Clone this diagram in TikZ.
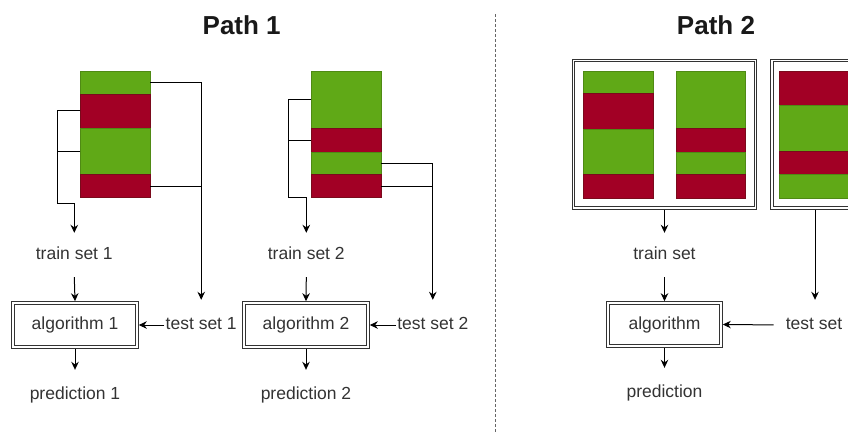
\documentclass[tikz,border=0pt]{standalone}
\usepackage{fontspec}
\setmainfont{Liberation Sans}
\usetikzlibrary{arrows.meta,calc}
\definecolor{grn}{HTML}{60A917}
\definecolor{crim}{HTML}{A20025}
\definecolor{grnD}{HTML}{4F8A14}
\definecolor{crimD}{HTML}{7A0A1C}
\tikzset{
  lbl/.style={font=\fontsize{17.5}{20}\selectfont, text=black!80, inner xsep=1pt, inner ysep=13.5pt, text height=13pt, text depth=4pt},
  tst/.style={lbl, inner ysep=16.5pt},
  ttl/.style={font=\fontsize{26}{30}\selectfont\bfseries, text=black!90},
  dbox/.style={draw=black!80, line width=1pt, inner sep=0pt,
    append after command={\pgfextra{\draw[draw=black!80, line width=1pt]
      ($(\tikzlastnode.south west)+(3pt,3pt)$) rectangle ($(\tikzlastnode.north east)+(-3pt,-3pt)$);}}},
  algbox/.style={dbox, font=\fontsize{17.5}{20}\selectfont, text=black!80},
  conn/.style={draw=black, line width=1pt},
  arr/.style={conn, -{Stealth[length=8pt,width=7.5pt]}},
  gband/.style={fill=grn, draw=grnD, line width=0.4pt},
  rband/.style={fill=crim, draw=crimD, line width=0.4pt},
  sepline/.style={draw=black!60, line width=0.9pt, dash pattern=on 3pt off 2pt},
}
\begin{document}
\begin{tikzpicture}[x=1pt,y=-1pt]
\useasboundingbox (0,0) rectangle (848,437);
\clip (0,0) rectangle (848,437);

% titles and separator
\node[ttl] (t1) at (241.7,25) {Path 1};
\node[ttl] (t2) at (716,25) {Path 2};
\coordinate (sepA) at (495.7,14);
\coordinate (sepB) at (495.7,433);
\draw[sepline] (sepA) -- (sepB);

% ---------- Path 1, block 1 ----------
\draw[gband] (80.3,70.7) rectangle (150,93.7);
\draw[rband] (80.3,93.7) rectangle (150,128.5);
\draw[gband] (80.3,128.5) rectangle (150,174.3);
\draw[rband] (80.3,174.3) rectangle (150,197);

% ---------- Path 1, block 2 ----------
\draw[gband] (311,70.7) rectangle (381,128.3);
\draw[rband] (311,128.3) rectangle (381,151.7);
\draw[gband] (311,151.7) rectangle (381,174.3);
\draw[rband] (311,174.3) rectangle (381,197);

% labels path 1
\node[lbl] (tr1) at (74.3,255) {train set 1};
\node[lbl] (tr2) at (306.3,255) {train set 2};
\node[algbox, minimum width=126.6pt, minimum height=46.6pt] (al1) at (75,325) {algorithm 1};
\node[algbox, minimum width=126.6pt, minimum height=46.6pt] (al2) at (306,325) {algorithm 2};
\node[tst] (te1) at (201.2,325) {test set 1};
\node[tst] (te2) at (432.8,325) {test set 2};
\node[tst] (pr1) at (75,395) {prediction 1};
\node[tst] (pr2) at (306,395) {prediction 2};

% connectors block 1
\coordinate (b1l1) at (80.3,110.7);
\coordinate (b1l2) at (80.3,151);
\coordinate (k1) at (57.7,203.3);
\coordinate (b1r1) at (150,82);
\coordinate (b1r2) at (150,186);
\draw[arr] (b1l1) -| (k1) -| (tr1.north);
\draw[conn] (b1l2) -- (b1l2 -| k1);
\draw[arr] (b1r1) -| (te1.north);
\draw[conn] (b1r2) -- (b1r2 -| te1.north);

% connectors block 2
\coordinate (b2l1) at (311,99.7);
\coordinate (b2l2) at (311,140);
\coordinate (k2) at (288.7,197.3);
\coordinate (b2r1) at (381,163);
\coordinate (b2r2) at (381,186);
\draw[arr] (b2l1) -| (k2) -| (tr2.north);
\draw[conn] (b2l2) -- (b2l2 -| k2);
\draw[arr] (b2r1) -| (te2.north);
\draw[conn] (b2r2) -- (b2r2 -| te2.north);

\draw[arr] (tr1.south) -- (al1.north);
\draw[arr] (tr2.south) -- (al2.north);
\draw[arr] (te1.west) -- (al1.east);
\draw[arr] (te2.west) -- (al2.east);
\draw[arr] (al1.south) -- (pr1.north);
\draw[arr] (al2.south) -- (pr2.north);

% ---------- Path 2 ----------
\node[dbox, minimum width=184.4pt, minimum height=150pt] (bx1) at (664.5,134) {};
\node[dbox, minimum width=88.6pt, minimum height=150pt] (bx2) at (815,134) {};

\draw[gband] (583.3,70.7) rectangle (653.3,93.5);
\draw[rband] (583.3,93.5) rectangle (653.3,128.7);
\draw[gband] (583.3,128.7) rectangle (653.3,174.3);
\draw[rband] (583.3,174.3) rectangle (653.3,197.7);

\draw[gband] (675.7,70.7) rectangle (745.3,128.3);
\draw[rband] (675.7,128.3) rectangle (745.3,151.7);
\draw[gband] (675.7,151.7) rectangle (745.3,174.3);
\draw[rband] (675.7,174.3) rectangle (745.3,197.7);

\draw[rband] (779.3,70.7) rectangle (850.7,105.3);
\draw[gband] (779.3,105.3) rectangle (850.7,151);
\draw[rband] (779.3,151) rectangle (850.7,174.3);
\draw[gband] (779.3,174.3) rectangle (850.7,197.7);

\node[lbl] (tr3) at (664.5,255) {train set};
\node[algbox, minimum width=115.6pt, minimum height=45.6pt] (al3) at (664.5,324.5) {algorithm};
\node[tst] (te3) at (814,325) {test set};
\node[tst] (pr3) at (664.5,393) {prediction};

\draw[arr] (bx1.south) -- (tr3.north);
\draw[arr] (bx2.south) -- (bx2.south |- te3.north);
\draw[arr] (tr3.south) -- (al3.north);
\draw[arr, shorten <=11pt] (te3.west) -- (al3.east);
\draw[arr] (al3.south) -- (pr3.north);
\end{tikzpicture}
\end{document}
